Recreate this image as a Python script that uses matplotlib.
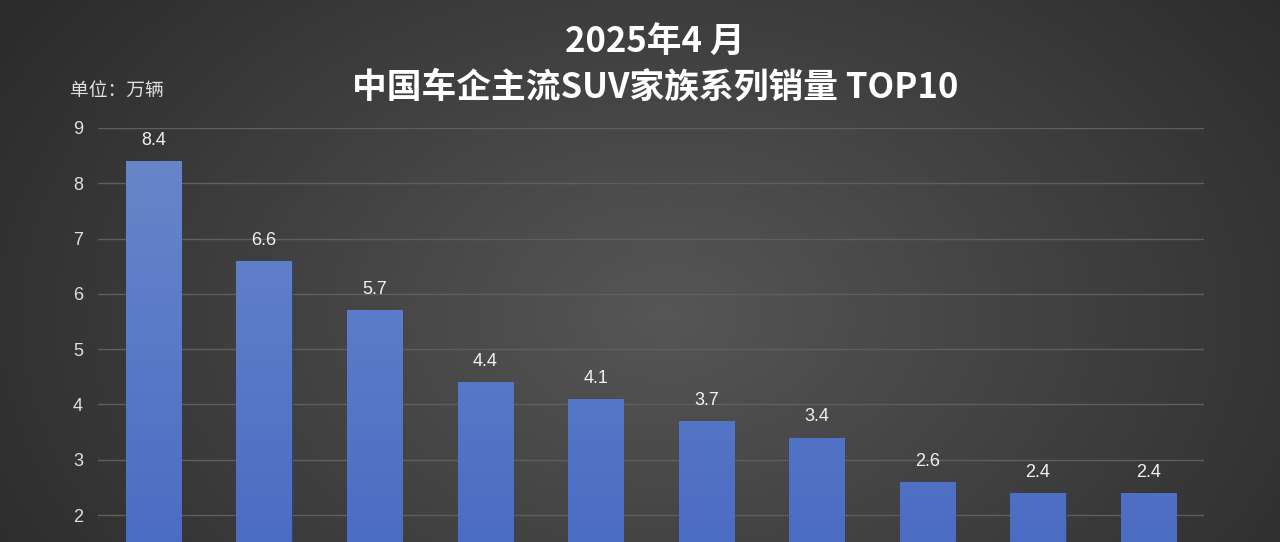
import numpy as np
import matplotlib
matplotlib.use("Agg")
import matplotlib.pyplot as plt
from matplotlib.colors import LinearSegmentedColormap

plt.rcParams['font.family'] = ['Noto Sans CJK SC', 'DejaVu Sans']

categories = [str(i) for i in range(1, 11)]
values = [8.4, 6.6, 5.7, 4.4, 4.1, 3.7, 3.4, 2.6, 2.4, 2.4]
yticks = [2, 3, 4, 5, 6, 7, 8, 9]

W, H = 1280, 542
fig = plt.figure(figsize=(W / 100, H / 100), dpi=100)

# radial background
bg = fig.add_axes([0, 0, 1, 1], zorder=0)
yy, xx = np.mgrid[0:H, 0:W]
cx, cy = W * 0.52, H * 0.58
r = np.sqrt(((xx - cx) / (W * 0.62)) ** 2 + ((yy - cy) / (H * 1.0)) ** 2)
r = np.clip(r, 0, 1)
inner = np.array([0x56, 0x56, 0x56]) / 255
outer = np.array([0x2b, 0x2b, 0x2b]) / 255
img = inner[None, None, :] * (1 - r[..., None]) + outer[None, None, :] * r[..., None]
bg.imshow(img, aspect='auto', extent=[0, 1, 0, 1])
bg.axis('off')

top = (H - 128) / H
bot = (H - 625.6) / H
left = 98.2 / W
right = 1203.8 / W
ax = fig.add_axes([left, bot, right - left, top - bot], zorder=1)
ax.set_facecolor('none')
ax.set_xlim(-0.5, 9.5)
ax.set_ylim(0, 9)

x = np.arange(len(values))
bars = ax.bar(x, values, width=0.5, color='#5577c6', edgecolor='#34456a', linewidth=0.8, zorder=2)

cmap = LinearSegmentedColormap.from_list('b', ['#4567c2', '#6a87cb'])
grad = np.linspace(0, 1, 256).reshape(-1, 1)
for b in bars:
    bx, bw = b.get_x(), b.get_width()
    im = ax.imshow(grad, cmap=cmap, origin='lower', aspect='auto',
                   extent=[bx, bx + bw, 0, 9], zorder=2.5)
    im.set_clip_path(b)

num_font = ['Liberation Sans', 'DejaVu Sans']
for xi, v in zip(x, values):
    ax.text(xi, v + 0.22, f'{v:.1f}', ha='center', va='bottom', color='#f2f2f2',
            fontsize=13, family=num_font, zorder=3)

ax.set_yticks(yticks)
ax.set_yticklabels([str(t) for t in yticks], family=num_font)
ax.set_xticks([])
ax.tick_params(axis='y', length=0, colors='#e0e0e0', labelsize=13, pad=11)
ax.grid(axis='y', color='#5f5f5f', linewidth=1, zorder=1)
for s in ax.spines.values():
    s.set_visible(False)

fig.text(655 / W, 1 - 42 / H, '2025年4 月', ha='center', va='center', color='white',
         fontsize=25, fontweight='bold')
fig.text(655 / W, 1 - 87 / H, '中国车企主流SUV家族系列销量 TOP10', ha='center', va='center',
         color='white', fontsize=25, fontweight='bold')
fig.text(70 / W, 1 - 91 / H, '单位：万辆', ha='left', va='center', color='#e0e0e0', fontsize=13.5)

fig.savefig('out.png', dpi=100)
